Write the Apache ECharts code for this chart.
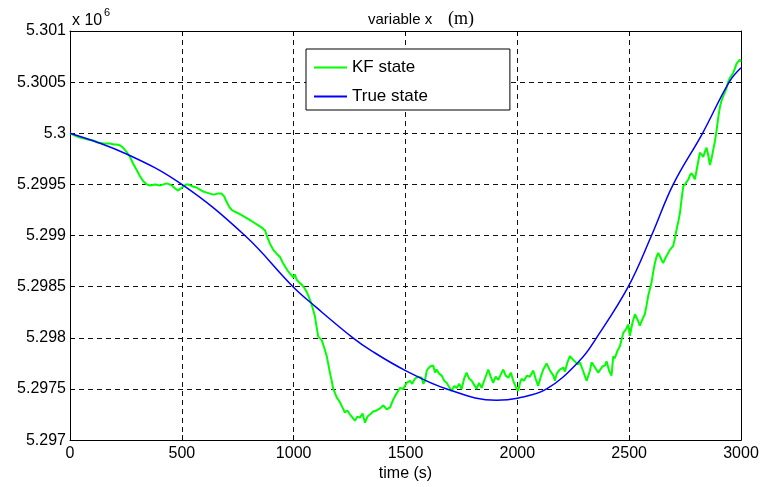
<!DOCTYPE html>
<html>
<head>
<meta charset="utf-8">
<script src="https://cdn.jsdelivr.net/npm/echarts@6/dist/echarts.min.js"></script>
<style>html,body{margin:0;padding:0;background:#fff;}#c{width:762px;height:487px;}</style>
</head>
<body>
<div id="c"></div>
<script>
// x-axis ticks (s) and y-axis ticks (x 10^6 m)
var xTicks = [0, 500, 1000, 1500, 2000, 2500, 3000];
var yTicks = [5.297, 5.2975, 5.298, 5.2985, 5.299, 5.2995, 5.3, 5.3005, 5.301];

// True state (time s, value x 10^6 m)
var trueT = [0, 250, 500, 782, 997, 1100, 1265, 1350, 1500, 1684, 1907, 2000, 2131, 2280, 2354, 2496, 2600, 2697, 2828, 2947, 3000];
var trueX = [5.30000, 5.29980, 5.29950, 5.29900, 5.29850, 5.29830, 5.29800, 5.29787, 5.29768, 5.29750, 5.29739, 5.29741, 5.29750, 5.29778, 5.29800, 5.29850, 5.29900, 5.29950, 5.30000, 5.30050, 5.30064];

// KF state (time s, value x 10^6 m)
var kfT = [0,20,40,60,80,104,125,150,179,195,209,225,237,252,268,283,298,313,328,343,358,380,402,418,432,445,455,470,484,495,507,520,529,548,566,581,596,611,626,641,660,678,690,700,712,723,740,760,775,790,805,820,835,849,862,872,883,894,909,925,939,950,961,972,983,998,1005,1013,1025,1036,1047,1058,1066,1073,1084,1095,1103,1110,1118,1125,1137,1148,1155,1162,1170,1177,1192,1207,1218,1229,1240,1252,1263,1274,1285,1296,1308,1319,1330,1341,1356,1371,1386,1401,1416,1431,1442,1453,1464,1475,1490,1505,1520,1530,1542,1557,1572,1580,1587,1595,1602,1610,1624,1632,1639,1650,1662,1673,1684,1695,1706,1718,1729,1740,1751,1762,1773,1785,1796,1807,1818,1829,1840,1855,1870,1881,1892,1903,1915,1926,1937,1948,1960,1971,1982,1993,2004,2012,2019,2030,2042,2056,2071,2082,2093,2105,2116,2131,2146,2161,2168,2176,2190,2205,2213,2224,2235,2243,2257,2270,2280,2290,2303,2310,2317,2325,2332,2339,2350,2362,2369,2380,2392,2399,2410,2421,2429,2436,2447,2459,2466,2474,2485,2496,2503,2515,2526,2537,2548,2559,2570,2578,2585,2593,2600,2608,2615,2622,2630,2641,2652,2660,2667,2682,2697,2705,2712,2720,2727,2734,2742,2750,2757,2765,2772,2779,2787,2794,2805,2816,2824,2831,2839,2846,2854,2861,2869,2876,2884,2891,2898,2906,2913,2920,2928,2935,2942,2950,2957,2965,2972,2980,2988,2995,3000];
var kfX = [5.30000,5.29998,5.29996,5.29995,5.29994,5.29993,5.29991,5.29990,5.29990,5.29989,5.29989,5.29988,5.29986,5.29982,5.29977,5.29970,5.29964,5.29958,5.29953,5.29950,5.29949,5.29950,5.29949,5.29950,5.29951,5.29950,5.29949,5.29946,5.29944,5.29946,5.29948,5.29950,5.29950,5.29948,5.29947,5.29945,5.29943,5.29942,5.29941,5.29940,5.29941,5.29941,5.29938,5.29933,5.29928,5.29925,5.29923,5.29921,5.29919,5.29917,5.29915,5.29913,5.29911,5.29909,5.29907,5.29905,5.29898,5.29892,5.29886,5.29882,5.29879,5.29874,5.29870,5.29866,5.29863,5.29859,5.29862,5.29857,5.29854,5.29852,5.29849,5.29845,5.29841,5.29837,5.29830,5.29821,5.29810,5.29801,5.29800,5.29798,5.29790,5.29782,5.29774,5.29766,5.29758,5.29750,5.29742,5.29737,5.29732,5.29727,5.29729,5.29725,5.29722,5.29719,5.29723,5.29722,5.29726,5.29717,5.29723,5.29725,5.29728,5.29729,5.29731,5.29734,5.29730,5.29732,5.29738,5.29743,5.29747,5.29751,5.29750,5.29756,5.29758,5.29755,5.29760,5.29762,5.29761,5.29755,5.29758,5.29768,5.29770,5.29772,5.29773,5.29766,5.29769,5.29765,5.29763,5.29758,5.29756,5.29752,5.29748,5.29753,5.29751,5.29755,5.29750,5.29760,5.29766,5.29760,5.29758,5.29754,5.29750,5.29756,5.29751,5.29760,5.29769,5.29762,5.29756,5.29762,5.29759,5.29764,5.29769,5.29763,5.29761,5.29766,5.29758,5.29752,5.29748,5.29756,5.29760,5.29758,5.29763,5.29762,5.29768,5.29760,5.29753,5.29762,5.29769,5.29775,5.29768,5.29763,5.29758,5.29765,5.29769,5.29771,5.29767,5.29776,5.29782,5.29780,5.29777,5.29774,5.29776,5.29770,5.29762,5.29758,5.29757,5.29768,5.29776,5.29774,5.29770,5.29766,5.29766,5.29772,5.29773,5.29777,5.29768,5.29763,5.29782,5.29780,5.29787,5.29792,5.29798,5.29805,5.29808,5.29813,5.29802,5.29815,5.29823,5.29818,5.29812,5.29818,5.29823,5.29832,5.29841,5.29848,5.29854,5.29865,5.29873,5.29879,5.29883,5.29878,5.29873,5.29877,5.29880,5.29886,5.29890,5.29898,5.29906,5.29914,5.29922,5.29935,5.29948,5.29950,5.29951,5.29955,5.29959,5.29961,5.29958,5.29955,5.29968,5.29981,5.29979,5.29977,5.29982,5.29986,5.29978,5.29969,5.29976,5.29984,5.29993,5.30003,5.30015,5.30026,5.30032,5.30036,5.30040,5.30044,5.30050,5.30054,5.30055,5.30059,5.30063,5.30068,5.30067,5.30072,5.30070];

var zip = function (a, b) { return a.map(function (v, i) { return [v, b[i]]; }); };
var FONT = 'Liberation Sans';
var xMin = xTicks[0], xMax = xTicks[xTicks.length - 1], xInt = xTicks[1] - xTicks[0];
var yMin = yTicks[0], yMax = yTicks[yTicks.length - 1], yInt = 0.0005;
var fmtY = function (v) { return String(+v.toFixed(4)); };
var fmtX = function (v) { return String(v); };

var chart = echarts.init(document.getElementById('c'), null, { renderer: 'canvas' });
chart.setOption({
  animation: false,
  backgroundColor: '#fff',
  grid: { left: 70, right: 21, top: 31, bottom: 46, containLabel: false },
  graphic: [
    { type: 'text', left: 368, top: 12, style: { text: 'variable x', font: '15px "Liberation Sans"', fill: '#000' } },
    { type: 'text', left: 448, top: 10, style: { text: '(m)', font: '18px "Liberation Serif"', fill: '#000' } },
    { type: 'text', left: 72, top: 13, style: { text: 'x 10', font: '16px "Liberation Sans"', fill: '#000' } },
    { type: 'text', left: 104, top: 7, style: { text: '6', font: '11px "Liberation Sans"', fill: '#000' } }
  ],
  legend: {
    left: 306, top: 49, orient: 'vertical',
    backgroundColor: '#fff', borderColor: '#000', borderWidth: 1,
    padding: [10, 82, 5, 7], itemGap: 12, itemWidth: 33, itemHeight: 17, itemTextGap: 5,
    itemStyle: { opacity: 0 },
    textStyle: { fontFamily: FONT, fontSize: 17, color: '#000', lineHeight: 17 },
    data: ['KF state', 'True state']
  },
  xAxis: [{
    type: 'value', min: xMin, max: xMax, interval: xInt,
    name: 'time (s)', nameLocation: 'middle', nameGap: 21,
    nameTextStyle: { fontFamily: FONT, fontSize: 16, color: '#000' },
    axisLine: { show: true, onZero: false, lineStyle: { color: '#000', width: 1 } },
    axisTick: { show: true, inside: true, length: 5, lineStyle: { color: '#000' } },
    axisLabel: { fontFamily: FONT, fontSize: 16, color: '#000', margin: 5, formatter: fmtX },
    splitLine: { show: true, lineStyle: { color: '#111', type: [5, 4], width: 1 } }
  }, {
    type: 'value', position: 'top', min: xMin, max: xMax, interval: xInt,
    axisLine: { show: true, onZero: false, lineStyle: { color: '#000', width: 1 } },
    axisTick: { show: true, inside: true, length: 5, lineStyle: { color: '#000' } },
    axisLabel: { show: false }, splitLine: { show: false }
  }],
  yAxis: [{
    type: 'value', min: yMin, max: yMax, interval: yInt,
    axisLine: { show: true, onZero: false, lineStyle: { color: '#000', width: 1 } },
    axisTick: { show: true, inside: true, length: 5, lineStyle: { color: '#000' } },
    axisLabel: { fontFamily: FONT, fontSize: 16, color: '#000', margin: 4, formatter: fmtY },
    splitLine: { show: true, lineStyle: { color: '#111', type: [5, 4], width: 1 } }
  }, {
    type: 'value', position: 'right', min: yMin, max: yMax, interval: yInt,
    axisLine: { show: true, onZero: false, lineStyle: { color: '#000', width: 1 } },
    axisTick: { show: true, inside: true, length: 5, lineStyle: { color: '#000' } },
    axisLabel: { show: false }, splitLine: { show: false }
  }],
  series: [{
    name: 'KF state', type: 'line', symbol: 'none', xAxisIndex: 0, yAxisIndex: 0,
    data: zip(kfT, kfX),
    lineStyle: { color: '#00ff00', width: 2 }, itemStyle: { color: '#00ff00' }
  }, {
    name: 'True state', type: 'line', symbol: 'none', smooth: 0.4, xAxisIndex: 0, yAxisIndex: 0,
    data: zip(trueT, trueX),
    lineStyle: { color: '#0000ff', width: 1.5 }, itemStyle: { color: '#0000ff' }
  }]
});
</script>
</body>
</html>
